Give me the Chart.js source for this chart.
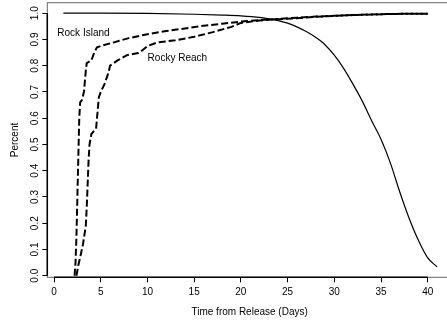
<!DOCTYPE html>
<html>
<head>
<meta charset="utf-8">
<script src="https://cdn.jsdelivr.net/npm/chart.js@4/dist/chart.umd.min.js"></script>
<style>
  html, body { margin: 0; padding: 0; background: #fff; overflow: hidden; }
  #wrap { width: 460px; height: 327px; position: relative; }
</style>
</head>
<body>
<div id="wrap"><canvas id="c"></canvas></div>
<script>
// ---- data ----
const survivalDays = [1, 5, 10, 15, 18, 20, 22, 24, 25, 26, 27, 28, 29, 30, 31, 32, 33, 34, 35, 36, 37, 38, 39, 40, 41];
const survivalPct  = [1.0, 1.0, 0.999, 0.996, 0.993, 0.99, 0.984, 0.972, 0.962, 0.948, 0.93, 0.908, 0.88, 0.84, 0.79, 0.73, 0.665, 0.59, 0.52, 0.43, 0.32, 0.22, 0.135, 0.068, 0.034];

const rockIslandDays = [2.2, 2.3, 2.4, 2.5, 2.6, 2.7, 2.8, 3.0, 3.2, 3.4, 3.5, 4.0, 4.3, 4.6, 5.0, 6.0, 7.0, 8.0, 10, 12, 14, 16, 18, 20, 22, 24, 26, 28, 30, 32, 34, 36, 38, 40];
const rockIslandPct  = [0.0, 0.05, 0.15, 0.3, 0.45, 0.6, 0.66, 0.67, 0.70, 0.78, 0.81, 0.82, 0.85, 0.87, 0.875, 0.885, 0.895, 0.905, 0.92, 0.932, 0.942, 0.952, 0.96, 0.968, 0.974, 0.978, 0.983, 0.987, 0.99, 0.993, 0.995, 0.997, 0.998, 0.998];

const rockyReachDays = [2.4, 2.6, 2.8, 3.1, 3.4, 3.5, 3.6, 3.7, 3.8, 4.0, 4.5, 4.6, 4.8, 5.0, 5.4, 5.8, 6.0, 6.8, 7.8, 9.0, 9.5, 10, 11, 13, 15, 17, 19, 20, 22, 24, 26, 28, 30, 32, 34, 36, 38, 40];
const rockyReachPct  = [0.0, 0.04, 0.07, 0.12, 0.19, 0.26, 0.35, 0.44, 0.50, 0.54, 0.56, 0.60, 0.68, 0.70, 0.73, 0.77, 0.80, 0.82, 0.84, 0.848, 0.86, 0.875, 0.888, 0.897, 0.91, 0.928, 0.948, 0.963, 0.972, 0.977, 0.981, 0.986, 0.99, 0.993, 0.995, 0.997, 0.998, 0.998];

const xTickValues = [0, 5, 10, 15, 20, 25, 30, 35, 40];
const yTickValues = [0, 0.1, 0.2, 0.3, 0.4, 0.5, 0.6, 0.7, 0.8, 0.9, 1.0];
const yTickLabels = ["0.0", "0.1", "0.2", "0.3", "0.4", "0.5", "0.6", "0.7", "0.8", "0.9", "1.0"];

const labelTexts = ["Rock Island", "Rocky Reach"];
const labelX = [3.15, 13.2];
const labelY = [0.922, 0.83];

// ---- build ----
const zip = (xs, ys) => xs.map((x, i) => ({ x: x, y: ys[i] }));
const FONT = "'Liberation Sans', Arial, Helvetica, sans-serif";

const framePlugin = {
  id: 'frame',
  afterDraw(chart) {
    const ctx = chart.ctx;
    const a = chart.chartArea;
    const xs = chart.scales.x, ys = chart.scales.y;
    ctx.save();
    // thin box
    ctx.strokeStyle = '#666';
    ctx.lineWidth = 1;
    ctx.strokeRect(a.left, a.top, a.right - a.left, a.bottom - a.top);
    // axis lines (first tick to last tick)
    ctx.strokeStyle = '#000';
    ctx.lineWidth = 1.5;
    ctx.beginPath();
    ctx.moveTo(a.left, ys.getPixelForValue(yTickValues[0]));
    ctx.lineTo(a.left, ys.getPixelForValue(yTickValues[yTickValues.length - 1]));
    ctx.moveTo(xs.getPixelForValue(xTickValues[0]), a.bottom);
    ctx.lineTo(xs.getPixelForValue(xTickValues[xTickValues.length - 1]), a.bottom);
    ctx.stroke();
    // rotated y tick labels
    ctx.fillStyle = '#000';
    ctx.font = '10px ' + FONT;
    ctx.textAlign = 'center';
    ctx.textBaseline = 'middle';
    yTickValues.forEach((v, i) => {
      ctx.save();
      ctx.translate(35, ys.getPixelForValue(v));
      ctx.rotate(-Math.PI / 2);
      ctx.fillText(yTickLabels[i], 0, 0);
      ctx.restore();
    });
    // in-plot labels
    labelTexts.forEach((t, i) => {
      ctx.fillText(t, xs.getPixelForValue(labelX[i]), ys.getPixelForValue(labelY[i]));
    });
    ctx.restore();
  }
};

new Chart(document.getElementById('c'), {
  type: 'line',
  data: {
    datasets: [
      {
        label: 'Survival',
        data: zip(survivalDays, survivalPct),
        borderColor: '#000',
        borderWidth: 1.2,
        pointRadius: 0,
        cubicInterpolationMode: 'monotone',
        fill: false
      },
      {
        label: 'Rock Island',
        data: zip(rockIslandDays, rockIslandPct),
        borderColor: '#000',
        borderWidth: 2,
        borderDash: [7, 3],
        pointRadius: 0,
        tension: 0,
        fill: false
      },
      {
        label: 'Rocky Reach',
        data: zip(rockyReachDays, rockyReachPct),
        borderColor: '#000',
        borderWidth: 2,
        borderDash: [7, 3],
        pointRadius: 0,
        tension: 0,
        fill: false
      }
    ]
  },
  options: {
    responsive: true,
    maintainAspectRatio: false,
    animation: false,
    layout: { padding: { left: 0, top: 2.7, right: 8, bottom: 0 } },
    plugins: { legend: { display: false }, tooltip: { enabled: false } },
    scales: {
      x: {
        type: 'linear',
        min: -0.72,
        max: 42.6,
        afterBuildTicks: s => { s.ticks = xTickValues.map(v => ({ value: v })); },
        afterFit: s => { s.height = 49.7; },
        border: { display: false },
        grid: { drawOnChartArea: false, drawTicks: true, tickLength: 5, color: '#000', lineWidth: 1 },
        ticks: { color: '#000', font: { family: FONT, size: 10 }, padding: 4, maxRotation: 0, autoSkip: false },
        title: { display: true, text: 'Time from Release (Days)', color: '#000', font: { family: FONT, size: 10 }, padding: { top: 0, bottom: 9 } }
      },
      y: {
        type: 'linear',
        min: -0.006,
        max: 1.04,
        afterBuildTicks: s => { s.ticks = yTickValues.map(v => ({ value: v })); },
        afterFit: s => { s.width = 47.3; },
        border: { display: false },
        grid: { drawOnChartArea: false, drawTicks: true, tickLength: 5, color: '#000', lineWidth: 1 },
        ticks: { display: false },
        title: { display: true, text: 'Percent', color: '#000', font: { family: FONT, size: 10 }, padding: { top: 9, bottom: 0 } }
      }
    }
  },
  plugins: [framePlugin]
});
</script>
</body>
</html>
